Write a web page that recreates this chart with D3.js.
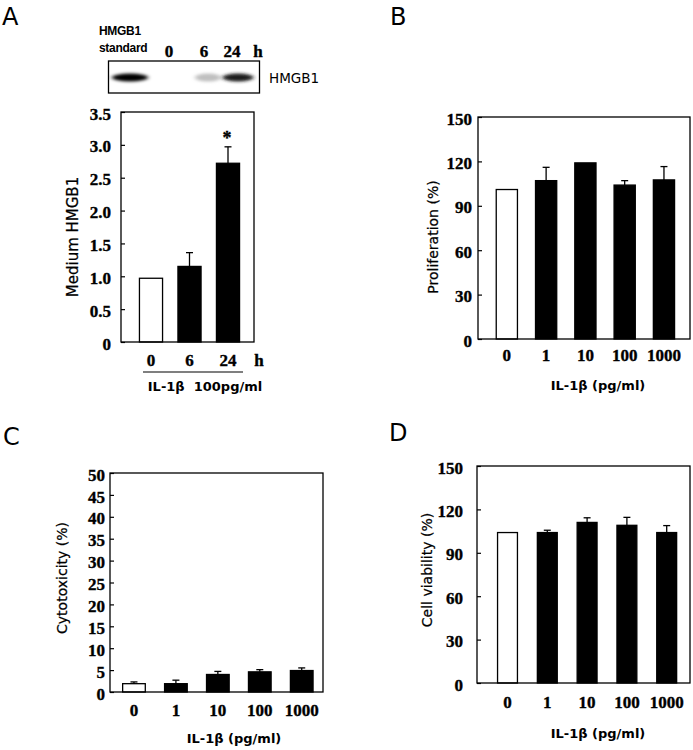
<!DOCTYPE html>
<html>
<head>
<meta charset="utf-8">
<script src="https://cdn.jsdelivr.net/npm/d3@7"></script>
<style>
  html, body { margin: 0; padding: 0; background: #fff; }
  svg { display: block; }
</style>
</head>
<body>
<svg id="chart" width="693" height="750"></svg>
<script>
// ---------------- DATA ----------------
// Panel A: medium HMGB1 after IL-1β 100 pg/ml
const timeCats = ["0", "6", "24"];
const hmgb1Values = [0.97, 1.15, 2.72];
const hmgb1Errors = [0, 0.21, 0.25];
const hmgb1Ticks = [0, 0.5, 1.0, 1.5, 2.0, 2.5, 3.0, 3.5];
const hmgb1TickLabels = ["0", "0.5", "1.0", "1.5", "2.0", "2.5", "3.0", "3.5"];
const hmgb1Signif = [false, false, true];

// Western blot lanes
const blotLanes = ["standard", "0", "6", "24"];
const blotIntensity = [1.0, 0.0, 0.25, 0.9];

// Dose categories for B, C, D
const doseCats = ["0", "1", "10", "100", "1000"];

// Panel B: proliferation (%)
const prolifValues = [101, 107, 119, 104, 107.5];
const prolifErrors = [0, 9, 0, 3, 9];
const pctTicks = [0, 30, 60, 90, 120, 150];

// Panel C: cytotoxicity (%)
const cytoValues = [1.9, 1.9, 4.0, 4.6, 4.9];
const cytoErrors = [0.4, 0.8, 0.7, 0.5, 0.6];
const cytoTicks = [0, 5, 10, 15, 20, 25, 30, 35, 40, 45, 50];

// Panel D: cell viability (%)
const viabValues = [104, 104, 111, 109, 104];
const viabErrors = [0, 1.6, 3.2, 5.5, 4.8];

// ---------------- DRAWING ----------------
const svg = d3.select("#chart");
const tickFont = "'Liberation Serif', 'Times New Roman', serif";
const sansFont = "'DejaVu Sans', Verdana, sans-serif";

function boldNum(sel, size) {
  return sel.attr("font-family", tickFont).attr("font-weight", "bold")
    .attr("font-size", size).attr("fill", "#000")
    .attr("stroke", "#000").attr("stroke-width", 0.35);
}

function panelLetter(txt, x, y) {
  svg.append("text").attr("x", x).attr("y", y)
    .attr("font-family", sansFont).attr("font-size", 24)
    .text(txt);
}

function drawPanel(o) {
  const g = svg.append("g");
  const y = d3.scaleLinear().domain(o.yDomain).range([o.bottom, o.top]);
  const x = d3.scaleBand().domain(o.cats).range(o.bandRange)
    .paddingInner(o.padInner).paddingOuter(o.padInner / 2);

  // bars
  g.selectAll("rect.bar").data(o.values).join("rect")
    .attr("class", "bar")
    .attr("x", (d, i) => x(o.cats[i]))
    .attr("width", x.bandwidth())
    .attr("y", d => y(d))
    .attr("height", d => o.bottom - y(d))
    .attr("fill", (d, i) => i === 0 ? "#fff" : "#000")
    .attr("stroke", "#000").attr("stroke-width", 1.3);

  // error bars (upper only)
  const capW = 3.5;
  o.errors.forEach((e, i) => {
    if (!e) return;
    const cx = x(o.cats[i]) + x.bandwidth() / 2;
    const y0 = y(o.values[i]), y1 = y(o.values[i] + e);
    g.append("line").attr("x1", cx).attr("x2", cx).attr("y1", y0).attr("y2", y1)
      .attr("stroke", "#000").attr("stroke-width", 1.3);
    g.append("line").attr("x1", cx - capW).attr("x2", cx + capW).attr("y1", y1).attr("y2", y1)
      .attr("stroke", "#000").attr("stroke-width", 1.3);
  });

  // frame
  g.append("rect").attr("x", o.left).attr("y", o.top)
    .attr("width", o.right - o.left).attr("height", o.bottom - o.top)
    .attr("fill", "none").attr("stroke", "#000").attr("stroke-width", 1.3);

  // y axis
  const ya = g.append("g").attr("transform", `translate(${o.left},0)`)
    .call(d3.axisLeft(y).tickValues(o.ticks)
      .tickFormat((d, i) => o.tickLabels ? o.tickLabels[i] : String(d))
      .tickSizeInner(-4).tickSizeOuter(0).tickPadding(o.yPad));
  ya.select(".domain").remove();
  ya.selectAll("line").attr("stroke", "#000").attr("stroke-width", 1.2);
  boldNum(ya.selectAll("text"), 17).attr("dy", "0.42em");

  // x axis labels
  const xa = g.append("g").attr("transform", `translate(0,${o.bottom})`)
    .call(d3.axisBottom(x).tickSize(0).tickPadding(o.xPad));
  xa.select(".domain").remove();
  boldNum(xa.selectAll("text"), 17);

  // y title
  svg.append("text")
    .attr("transform", `translate(${o.yTitleX},${o.yTitleY}) rotate(-90)`)
    .attr("text-anchor", "middle").attr("dominant-baseline", "central")
    .attr("font-family", sansFont).attr("font-size", o.yTitleSize || 14)
    .attr("stroke", "#000").attr("stroke-width", 0.25)
    .text(o.yTitle);

  // x title
  if (o.xTitle) {
    svg.append("text").attr("x", o.xTitleX).attr("y", o.xTitleY)
      .attr("text-anchor", "middle")
      .attr("font-family", sansFont).attr("font-weight", "bold").attr("font-size", 13)
      .text(o.xTitle);
  }
  return { x, y, g };
}

// ----- Panel A -----
panelLetter("A", 2, 25);

// western blot
const defs = svg.append("defs");
defs.append("filter").attr("id", "blur").attr("x", "-50%").attr("y", "-100%")
  .attr("width", "200%").attr("height", "300%")
  .append("feGaussianBlur").attr("stdDeviation", "2.2 1.6");
const laneX = d3.scaleOrdinal().domain(blotLanes).range([130, 167, 208, 238]);
const laneW = d3.scaleOrdinal().domain(blotLanes).range([18, 14, 13, 15.5]);
const shade = d3.scaleLinear().domain([0, 1]).range(["#ffffff", "#000000"]);
svg.append("rect").attr("x", 108.5).attr("y", 61).attr("width", 151).attr("height", 32)
  .attr("fill", "#fff").attr("stroke", "#000").attr("stroke-width", 1.3);
svg.append("g").selectAll("ellipse").data(blotIntensity).join("ellipse")
  .attr("cx", (d, i) => laneX(blotLanes[i]))
  .attr("cy", 77.5)
  .attr("rx", (d, i) => laneW(blotLanes[i]))
  .attr("ry", 4)
  .attr("fill", d => shade(d))
  .attr("opacity", d => d === 0 ? 0 : 1)
  .attr("filter", "url(#blur)");
svg.append("text").attr("x", 99).attr("y", 35)
  .attr("font-family", "'Liberation Sans', Arial, sans-serif").attr("font-weight", "bold")
  .attr("font-size", 12).attr("letter-spacing", -0.3).text("HMGB1");
svg.append("text").attr("x", 99).attr("y", 52)
  .attr("font-family", "'Liberation Sans', Arial, sans-serif").attr("font-weight", "bold")
  .attr("font-size", 12).attr("letter-spacing", -0.3).text("standard");
blotLanes.slice(1).forEach(l => {
  boldNum(svg.append("text"), 17)
    .attr("x", laneX(l) + (l === "0" ? 2 : l === "6" ? -4 : -6)).attr("y", 57)
    .attr("text-anchor", "middle").text(l);
});
boldNum(svg.append("text"), 17).attr("x", 258).attr("y", 57)
  .attr("text-anchor", "middle").text("h");
svg.append("text").attr("x", 269).attr("y", 83)
  .attr("font-family", sansFont).attr("font-size", 13.5).text("HMGB1");

const pA = drawPanel({
  cats: timeCats, values: hmgb1Values, errors: hmgb1Errors,
  yDomain: [0, 3.5], ticks: hmgb1Ticks, tickLabels: hmgb1TickLabels,
  left: 121, right: 254, top: 112, bottom: 342,
  bandRange: [131.75, 247.25], padInner: 0.4,
  yPad: 10, xPad: 12,
  yTitle: "Medium HMGB1", yTitleX: 73, yTitleY: 237, yTitleSize: 15
});
// significance star
hmgb1Signif.forEach((s, i) => {
  if (!s) return;
  boldNum(svg.append("text"), 18)
    .attr("x", pA.x(timeCats[i]) + pA.x.bandwidth() / 2 - 1)
    .attr("y", pA.y(hmgb1Values[i] + hmgb1Errors[i]) - 3)
    .attr("text-anchor", "middle").text("*");
});
boldNum(svg.append("text"), 17).attr("x", 259).attr("y", 366)
  .attr("text-anchor", "middle").text("h");
svg.append("line").attr("x1", 143).attr("x2", 243).attr("y1", 372).attr("y2", 372)
  .attr("stroke", "#000").attr("stroke-width", 1.2);
svg.append("text").attr("x", 205).attr("y", 391).attr("text-anchor", "middle")
  .attr("font-family", sansFont).attr("font-weight", "bold").attr("font-size", 13)
  .attr("xml:space", "preserve")
  .text("IL-1\u03B2  100pg/ml");

// ----- Panel B -----
panelLetter("B", 390, 25);
drawPanel({
  cats: doseCats, values: prolifValues, errors: prolifErrors,
  yDomain: [0, 150], ticks: pctTicks,
  left: 478, right: 690, top: 117, bottom: 339,
  bandRange: [487.2, 683.6], padInner: 0.46,
  yPad: 6, xPad: 10,
  yTitle: "Proliferation (%)", yTitleX: 433, yTitleY: 237,
  xTitle: "IL-1\u03B2 (pg/ml)", xTitleX: 598, xTitleY: 390
});

// ----- Panel C -----
panelLetter("C", 3, 445);
drawPanel({
  cats: doseCats, values: cytoValues, errors: cytoErrors,
  yDomain: [0, 50], ticks: cytoTicks,
  left: 110, right: 323, top: 473, bottom: 692,
  bandRange: [113, 322.7], padInner: 0.46,
  yPad: 5, xPad: 12,
  yTitle: "Cytotoxicity (%)", yTitleX: 62, yTitleY: 578,
  xTitle: "IL-1\u03B2 (pg/ml)", xTitleX: 234, xTitleY: 743
});

// ----- Panel D -----
panelLetter("D", 389, 441);
drawPanel({
  cats: doseCats, values: viabValues, errors: viabErrors,
  yDomain: [0, 150], ticks: pctTicks,
  left: 477, right: 690, top: 466, bottom: 683,
  bandRange: [487.6, 686.6], padInner: 0.5,
  yPad: 14, xPad: 13,
  yTitle: "Cell viability (%)", yTitleX: 427, yTitleY: 570,
  xTitle: "IL-1\u03B2 (pg/ml)", xTitleX: 598, xTitleY: 738
});
</script>
</body>
</html>
